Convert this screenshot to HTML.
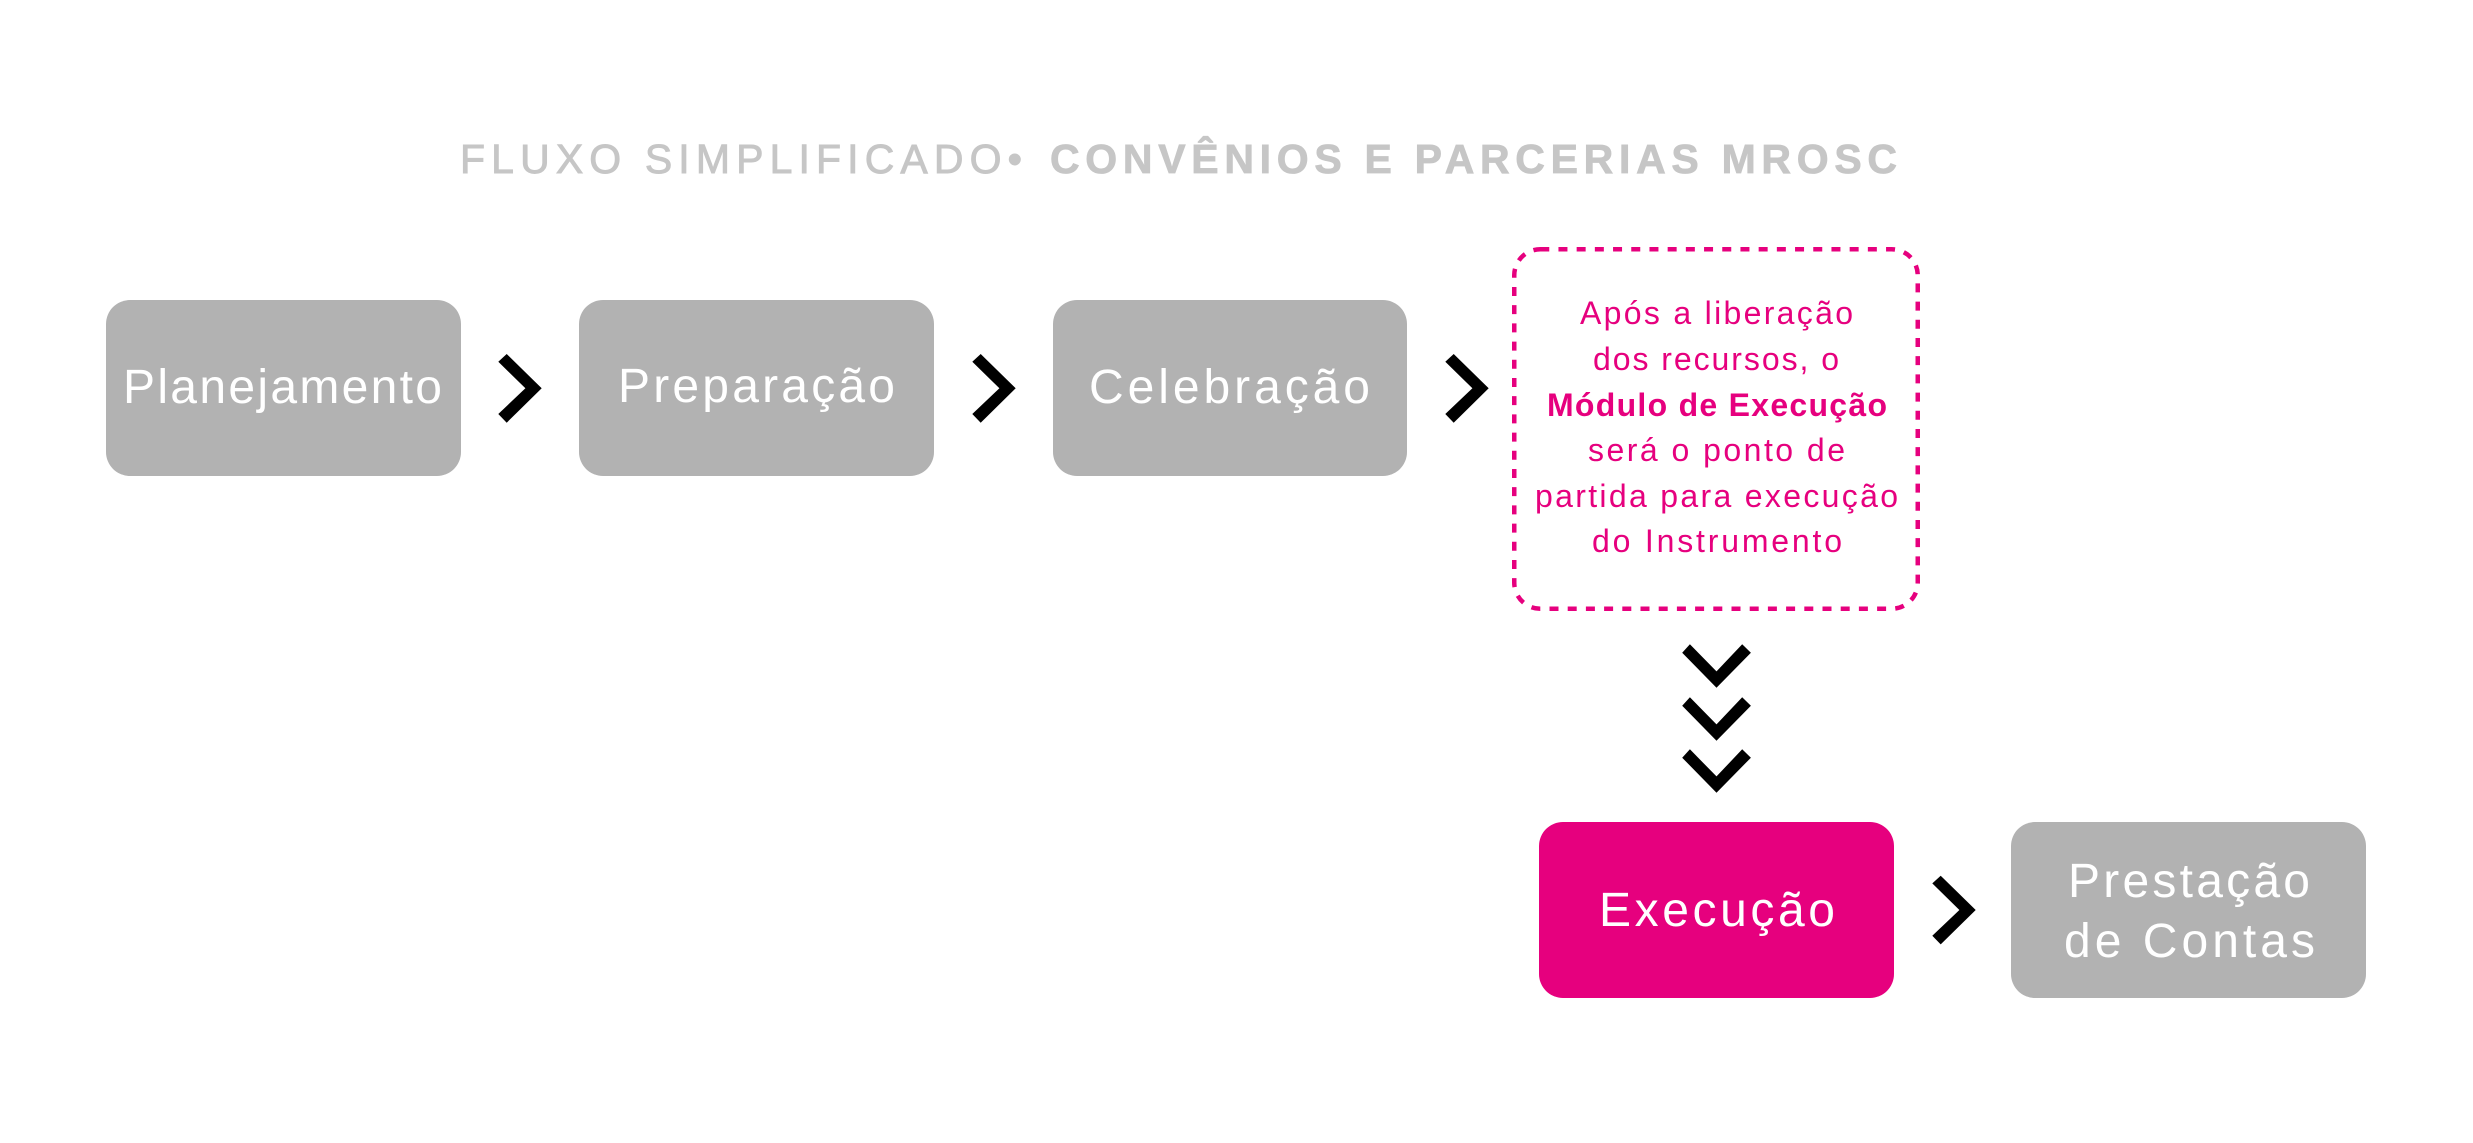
<!DOCTYPE html>
<html>
<head>
<meta charset="utf-8">
<style>
  html, body { margin: 0; padding: 0; background: #ffffff; }
  body { width: 2473px; height: 1143px; overflow: hidden; }
  svg { display: block; }
  text { font-family: "Liberation Sans", Arial, sans-serif; }
</style>
</head>
<body>
<svg width="2473" height="1143" viewBox="0 0 2473 1143" xmlns="http://www.w3.org/2000/svg">
  <rect x="0" y="0" width="2473" height="1143" fill="#ffffff"/>

  <!-- Title -->
  <text x="460" y="173" font-size="41" fill="#c6c6c6" stroke="#c6c6c6" stroke-width="0.9" textLength="562" lengthAdjust="spacing">FLUXO SIMPLIFICADO•</text>
  <text x="1050" y="173" font-size="41" font-weight="bold" fill="#c6c6c6" stroke="#c6c6c6" stroke-width="0.8" textLength="847" lengthAdjust="spacing">CONVÊNIOS E PARCERIAS MROSC</text>

  <!-- Row 1 boxes -->
  <rect x="106" y="300" width="355" height="176" rx="24" ry="24" fill="#b2b2b2"/>
  <rect x="579" y="300" width="355" height="176" rx="24" ry="24" fill="#b2b2b2"/>
  <rect x="1053" y="300" width="354" height="176" rx="24" ry="24" fill="#b2b2b2"/>

  <text x="123" y="403" font-size="48" fill="#ffffff" textLength="319" lengthAdjust="spacing">Planejamento</text>
  <text x="618" y="402" font-size="48" fill="#ffffff" textLength="277" lengthAdjust="spacing">Preparação</text>
  <text x="1089" y="403" font-size="48" fill="#ffffff" textLength="281" lengthAdjust="spacing">Celebração</text>

  <!-- Row 1 chevrons -->
  <g fill="#000000">
    <polygon transform="translate(498,354)" points="8.7,0 43.7,34.3 8.7,68.7 0.3,60 27.4,34.3 0.3,7.7"/>
    <polygon transform="translate(972,354)" points="8.7,0 43.7,34.3 8.7,68.7 0.3,60 27.4,34.3 0.3,7.7"/>
    <polygon transform="translate(1445,354)" points="8.7,0 43.7,34.3 8.7,68.7 0.3,60 27.4,34.3 0.3,7.7"/>
  </g>

  <!-- Dashed note box -->
  <rect x="1514.25" y="249.25" width="403.5" height="359.5" rx="26" ry="26" fill="none" stroke="#e6007e" stroke-width="4.5" stroke-dasharray="9 9.2"/>

  <g fill="#e6007e" font-size="32">
    <text x="1580" y="324" textLength="273" lengthAdjust="spacing">Após a liberação</text>
    <text x="1593" y="370" textLength="246" lengthAdjust="spacing">dos recursos, o</text>
    <text x="1547" y="416" font-weight="bold" textLength="340" lengthAdjust="spacing">Módulo de Execução</text>
    <text x="1588" y="461" textLength="257" lengthAdjust="spacing">será o ponto de</text>
    <text x="1535" y="507" textLength="363" lengthAdjust="spacing">partida para execução</text>
    <text x="1592" y="552" textLength="250" lengthAdjust="spacing">do Instrumento</text>
  </g>

  <!-- Down chevrons -->
  <g fill="#000000">
    <polygon transform="translate(1682.2,644)" points="0,8.7 34.3,43.7 68.7,8.7 60,0.3 34.3,27.4 7.7,0.3"/>
    <polygon transform="translate(1682.2,697)" points="0,8.7 34.3,43.7 68.7,8.7 60,0.3 34.3,27.4 7.7,0.3"/>
    <polygon transform="translate(1682.2,749)" points="0,8.7 34.3,43.7 68.7,8.7 60,0.3 34.3,27.4 7.7,0.3"/>
  </g>

  <!-- Row 2 boxes -->
  <rect x="1539" y="822" width="355" height="176" rx="24" ry="24" fill="#e6007e"/>
  <rect x="2011" y="822" width="355" height="176" rx="24" ry="24" fill="#b2b2b2"/>

  <text x="1599" y="926" font-size="48" fill="#ffffff" textLength="236" lengthAdjust="spacing">Execução</text>
  <text x="2068" y="897" font-size="48" fill="#ffffff" textLength="242" lengthAdjust="spacing">Prestação</text>
  <text x="2064" y="957" font-size="48" fill="#ffffff" textLength="251" lengthAdjust="spacing">de Contas</text>

  <!-- Row 2 chevron -->
  <polygon transform="translate(1932,875.7)" fill="#000000" points="8.7,0 43.7,34.3 8.7,68.7 0.3,60 27.4,34.3 0.3,7.7"/>
</svg>
</body>
</html>
